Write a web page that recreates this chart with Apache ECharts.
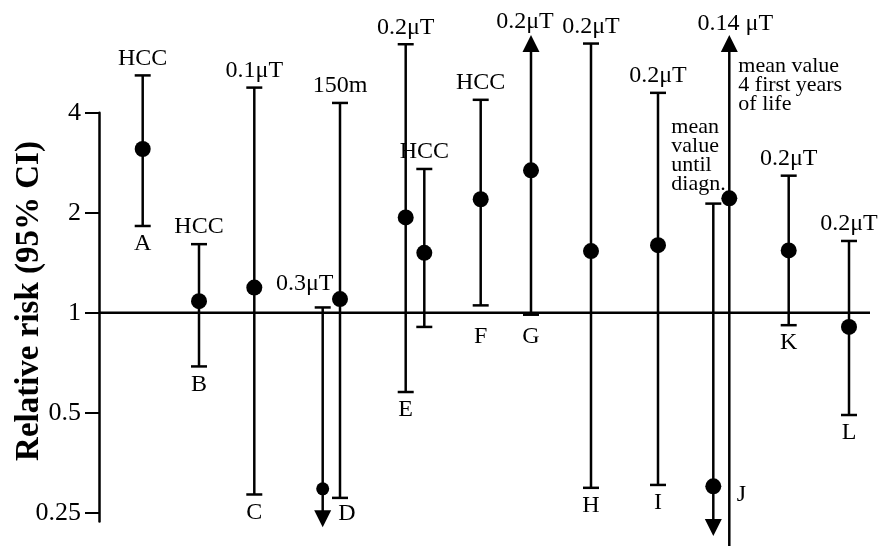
<!DOCTYPE html>
<html><head><meta charset="utf-8">
<script src="https://cdn.jsdelivr.net/npm/echarts@6/dist/echarts.min.js"></script>
<style>html,body{margin:0;padding:0;background:#fff}#c{width:887px;height:546px}</style>
</head><body><div id="c"></div>
<script>
// ---- data ----
const studyIds     = ['A','B','C','D1','D','E','E2','F','G','H','I','J1','J','K','L'];
const xPositions   = [4.37,10.0,15.53,22.37,24.1,30.67,32.53,38.17,43.2,49.2,55.9,61.43,63.03,68.97,75.0];
const relRisk      = [3.11,1.083,1.19,0.295,1.099,1.936,1.514,2.195,2.682,1.533,1.597,0.30,2.21,1.54,0.906];
const ciLower      = [1.824,0.689,0.2836,0.226,0.277,0.577,0.906,1.052,0.986,0.297,0.303,0.2128,0.19,0.917,0.492];
const ciUpper      = [5.18,1.608,4.76,1.037,4.28,6.43,2.708,4.374,6.86,6.46,4.59,2.13,6.85,2.585,1.644];
const lowerEnd     = ['cap','cap','cap','arrow','cap','cap','cap','cap','cap','cap','cap','arrow','open','cap','cap'];
const upperEnd     = ['cap','cap','cap','cap','cap','cap','cap','cap','arrow','cap','cap','cap','arrow','cap','cap'];
const topLabels    = ['HCC','HCC','0.1μT','0.3μT','150m','0.2μT','HCC','HCC','0.2μT','0.2μT','0.2μT','mean\nvalue\nuntil\ndiagn.','0.14 μT','0.2μT','0.2μT'];
const studyLetters = ['A','B','C','','D','E','','F','G','H','I','','J','K','L'];
const sideNotes    = ['','','','','','','','','','','','','mean value\n4 first years\nof life','',''];
const yTickValues  = [0.25,0.5,1,2,4];
const refValue     = 1;
const xRange       = [0, 77.1];
const yRange       = [0.235, 4];
const yTitle       = 'Relative risk (95% CI)';

// ---- presentation ----
const SERIF = '"Liberation Serif", "Times New Roman", serif';
const LW = 2.5, CAP = 16, ARW = 17, ARH = 17;
const labelFont = '24px ' + SERIF;
const noteFont = '22px ' + SERIF;

const chart = echarts.init(document.getElementById('c'), null, {renderer: 'canvas'});

const rows = studyIds.map((id, i) => [xPositions[i], relRisk[i], ciLower[i], ciUpper[i], i]);

function renderItem(params, api) {
  const i = api.value(4);
  const id = studyIds[i];
  const x = api.value(0);
  const pE = api.coord([x, api.value(1)]);
  const pL = api.coord([x, api.value(2)]);
  const pU = api.coord([x, api.value(3)]);
  const pRef = api.coord([x, refValue]);
  const cx = pE[0];
  const kids = [];
  const stroke = {stroke: '#000', lineWidth: LW};
  let yTop = pU[1], yBot = pL[1];
  if (upperEnd[i] === 'arrow') yTop = pU[1] + ARH - 1;
  if (lowerEnd[i] === 'arrow') yBot = pL[1] - ARH + 1;
  kids.push({type: 'line', shape: {x1: cx, y1: yTop, x2: cx, y2: yBot}, style: stroke});
  if (upperEnd[i] === 'cap') kids.push({type: 'line', shape: {x1: cx - CAP/2, y1: pU[1], x2: cx + CAP/2, y2: pU[1]}, style: stroke});
  if (lowerEnd[i] === 'cap') kids.push({type: 'line', shape: {x1: cx - CAP/2, y1: pL[1], x2: cx + CAP/2, y2: pL[1]}, style: stroke});
  if (upperEnd[i] === 'arrow') kids.push({type: 'polygon', shape: {points: [[cx, pU[1]], [cx - ARW/2, pU[1] + ARH], [cx + ARW/2, pU[1] + ARH]]}, style: {fill: '#000'}});
  if (lowerEnd[i] === 'arrow') kids.push({type: 'polygon', shape: {points: [[cx, pL[1]], [cx - ARW/2, pL[1] - ARH], [cx + ARW/2, pL[1] - ARH]]}, style: {fill: '#000'}});
  kids.push({type: 'circle', shape: {cx: cx, cy: pE[1], r: id === 'D1' ? 6.5 : 8}, style: {fill: '#000'}});
  const t = topLabels[i];
  if (t) {
    if (id === 'J1') {
      kids.push({type: 'text', x: cx - 42, y: pU[1] - 10, style: {text: t, font: noteFont, fill: '#000', align: 'left', verticalAlign: 'bottom', lineHeight: 19}});
    } else {
      let dx = 0, dy = -17;
      if (id === 'D1') { dx = -18; dy = -24; }
      if (id === 'G') { dx = -6; dy = -13; }
      if (id === 'J') { dx = 6; dy = -11; }
      kids.push({type: 'text', x: cx + dx, y: pU[1] + dy, style: {text: t, font: labelFont, fill: '#000', align: 'center', verticalAlign: 'middle'}});
    }
  }
  if (sideNotes[i]) {
    kids.push({type: 'text', x: cx + 9, y: pU[1] + 22, style: {text: sideNotes[i], font: noteFont, fill: '#000', align: 'left', verticalAlign: 'top', lineHeight: 19}});
  }
  const L = studyLetters[i];
  if (L) {
    let lx = cx, ly = pL[1] + 18;
    if (ly > pRef[1] - 12 && ly < pRef[1] + 24) ly = pRef[1] + 24;
    if (id === 'D') { lx = cx + 7; ly = pL[1] + 16; }
    if (id === 'J') { lx = cx + 12; ly = api.coord([x, relRisk[11]])[1] + 8; }
    kids.push({type: 'text', x: lx, y: ly, style: {text: L, font: labelFont, fill: '#000', align: 'center', verticalAlign: 'middle'}});
  }
  return {type: 'group', children: kids};
}

chart.setOption({
  animation: false,
  backgroundColor: '#fff',
  grid: {left: 99, right: 17, top: 112.7, bottom: 24.4, containLabel: false},
  xAxis: {type: 'value', min: xRange[0], max: xRange[1], show: false},
  yAxis: {
    type: 'log', logBase: 2, min: yRange[0], max: yRange[1],
    axisLine: {show: true, lineStyle: {color: '#000', width: LW}},
    axisTick: {show: true, length: 14, customValues: yTickValues, lineStyle: {color: '#000', width: 2}},
    axisLabel: {show: true, margin: 18, customValues: yTickValues, color: '#000', fontFamily: SERIF, fontSize: 26,
      formatter: v => String(v)},
    splitLine: {show: false}
  },
  graphic: [{
    type: 'text', x: 29, y: 301, rotation: Math.PI / 2,
    style: {text: yTitle, font: 'bold 33px ' + SERIF, fill: '#000', align: 'center', verticalAlign: 'middle'}
  }],
  series: [
    {type: 'line', data: [[xRange[0], refValue], [xRange[1], refValue]], symbol: 'none', lineStyle: {color: '#000', width: LW}, z: 1, silent: true},
    {type: 'custom', data: rows, renderItem: renderItem, encode: {x: 0, y: [1, 2, 3]}, clip: false, z: 2}
  ]
});
</script>
</body></html>
